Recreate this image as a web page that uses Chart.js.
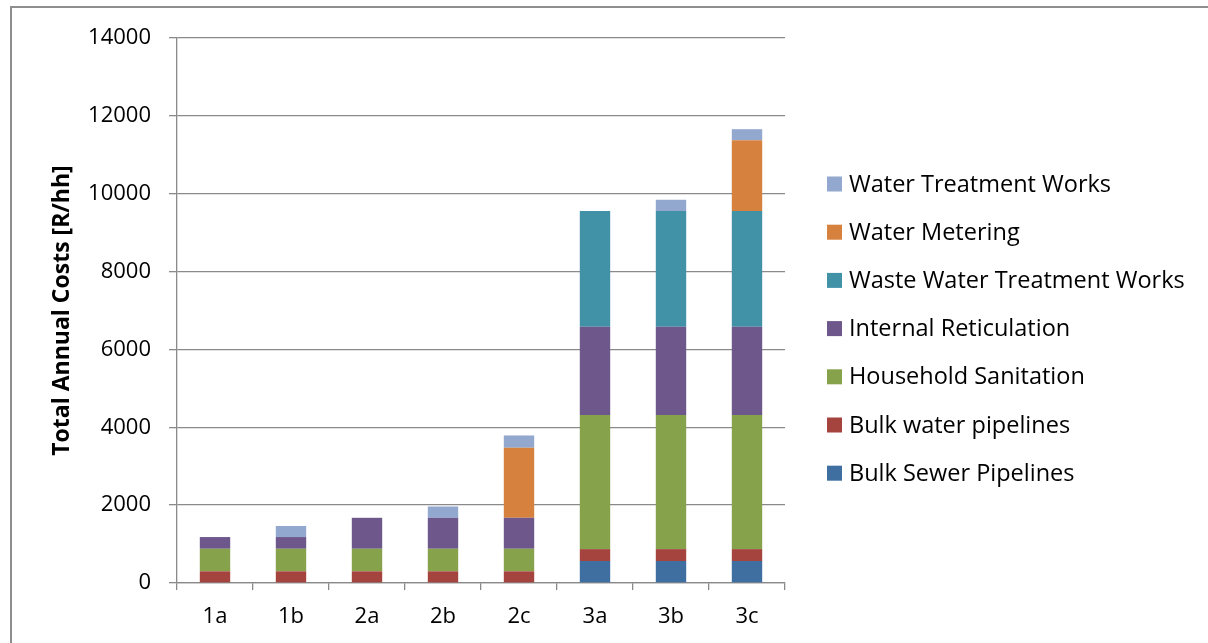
<!DOCTYPE html>
<html><head><meta charset="utf-8">
<script src="https://cdn.jsdelivr.net/npm/chart.js@4/dist/chart.umd.min.js"></script>
<style>
html,body{margin:0;padding:0;background:#fff;overflow:hidden;}
#wrap{position:relative;width:1208px;height:643px;overflow:hidden;}
#lineTop{position:absolute;left:10px;top:6px;width:1198px;height:2px;background:#8e8e8e;}
#lineLeft{position:absolute;left:10px;top:6px;width:2px;height:637px;background:#8e8e8e;}
canvas{position:absolute;left:0;top:0;}
</style></head><body>
<div id="wrap"><div id="lineTop"></div><div id="lineLeft"></div><canvas id="c" width="1208" height="643"></canvas></div>
<script>
const categories = ['1a','1b','2a','2b','2c','3a','3b','3c'];
const bulkSewer      = [0, 0, 0, 0, 0, 565, 565, 565];
const bulkWater      = [300, 300, 300, 300, 300, 305, 305, 305];
const householdSan   = [580, 580, 580, 580, 580, 3445, 3445, 3445];
const internalRetic  = [300, 300, 795, 795, 795, 2265, 2265, 2265];
const wasteWaterTW   = [0, 0, 0, 0, 0, 2975, 2975, 2975];
const waterMetering  = [0, 0, 0, 0, 1800, 0, 0, 1820];
const waterTW        = [0, 285, 0, 290, 315, 0, 290, 282];
const yTicks = [0, 2000, 4000, 6000, 8000, 10000, 12000, 14000];

const FONT = '"Open Sans", "DejaVu Sans", sans-serif';
const GRID = '#8a8a8a';

const legendPlugin = {
  id: 'customLegend',
  afterDraw(chart) {
    const ctx = chart.ctx;
    const ds = chart.data.datasets.slice().reverse();
    ctx.save();
    ctx.font = '23.5px ' + FONT;
    ctx.textBaseline = 'middle';
    ctx.textAlign = 'left';
    ds.forEach((d, i) => {
      const y = 184 + i * 48.2;
      ctx.fillStyle = d.backgroundColor;
      ctx.fillRect(827, y - 7.5, 15, 15);
      ctx.fillStyle = '#000';
      ctx.fillText(d.label, 849, y + 1);
    });
    ctx.restore();
  }
};

new Chart(document.getElementById('c'), {
  type: 'bar',
  data: {
    labels: categories,
    datasets: [
      {label: 'Bulk Sewer Pipelines', data: bulkSewer, backgroundColor: '#3e6fa0'},
      {label: 'Bulk water pipelines', data: bulkWater, backgroundColor: '#a5433f'},
      {label: 'Household Sanitation', data: householdSan, backgroundColor: '#86a24b'},
      {label: 'Internal Reticulation', data: internalRetic, backgroundColor: '#6d578b'},
      {label: 'Waste Water Treatment Works', data: wasteWaterTW, backgroundColor: '#4292a7'},
      {label: 'Water Metering', data: waterMetering, backgroundColor: '#d6813e'},
      {label: 'Water Treatment Works', data: waterTW, backgroundColor: '#92a8ce'}
    ]
  },
  options: {
    responsive: false,
    animation: false,
    devicePixelRatio: 1,
    layout: {padding: {left: 29, top: 38, right: 423, bottom: 0}},
    datasets: {bar: {barPercentage: 0.4, categoryPercentage: 1.0}},
    plugins: {legend: {display: false}, tooltip: {enabled: false}},
    scales: {
      x: {
        stacked: true,
        offset: true,
        grid: {display: true, drawOnChartArea: false, drawTicks: true, tickLength: 7, offset: true, color: GRID, lineWidth: 1.3},
        border: {display: true, color: GRID, width: 1.3},
        ticks: {font: {family: FONT, size: 22}, color: '#000', padding: 14, maxRotation: 0},
        afterFit(scale) { scale.height = 60; }
      },
      y: {
        stacked: true,
        min: 0,
        max: 14000,
        afterBuildTicks(scale) { scale.ticks = yTicks.map(v => ({value: v})); },
        grid: {color: GRID, lineWidth: 1.3, tickLength: 8, drawTicks: true},
        border: {display: true, color: GRID, width: 1.3},
        ticks: {font: {family: FONT, size: 22}, color: '#000', padding: 18, callback: v => String(v)},
        title: {display: true, text: 'Total Annual Costs [R/hh]', font: {family: FONT, size: 23, weight: 'bold'}, color: '#000', padding: {top: 20, bottom: 0}},
        afterFit(scale) { scale.width = 148; }
      }
    }
  },
  plugins: [legendPlugin]
});
</script>
</body></html>
